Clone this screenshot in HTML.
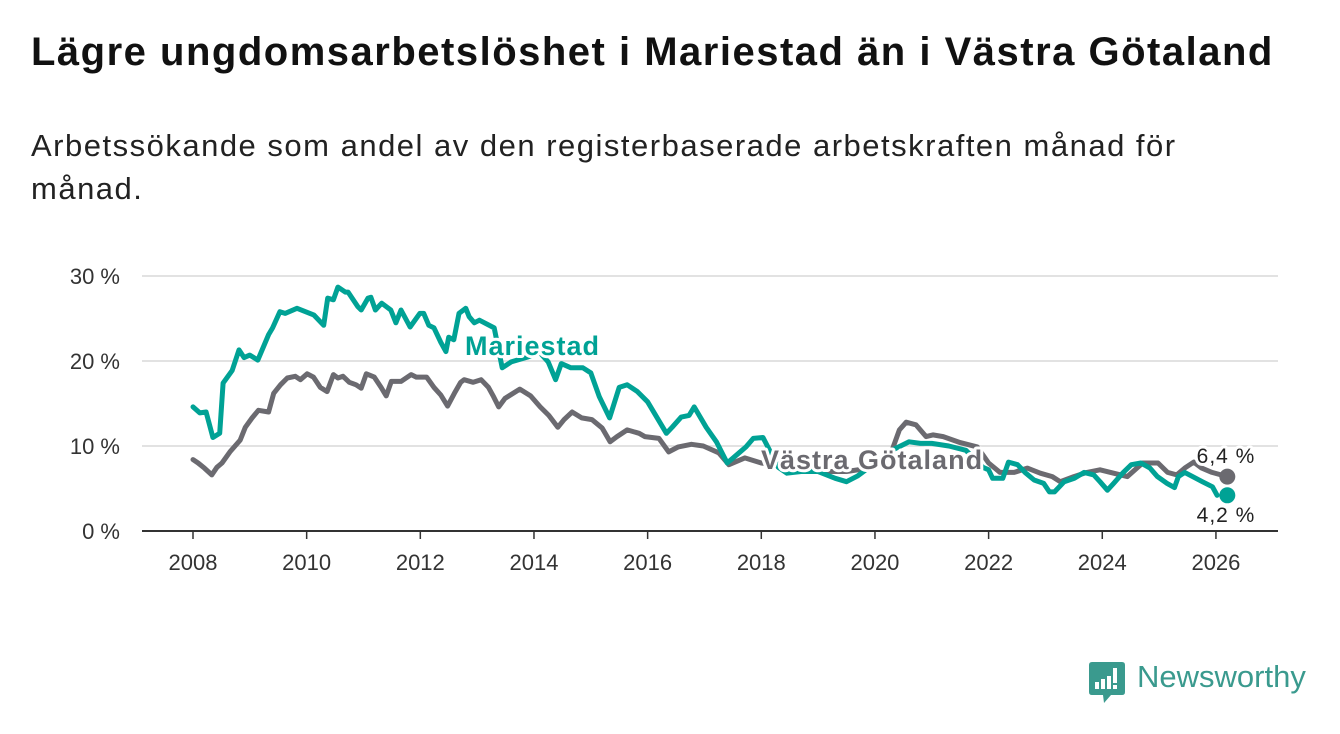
<!DOCTYPE html>
<html><head><meta charset="utf-8">
<style>
body{margin:0;background:#fff;width:1340px;height:734px;overflow:hidden;font-family:"Liberation Sans","DejaVu Sans",sans-serif;}
h1{position:absolute;left:31px;top:30px;margin:0;font-size:40px;letter-spacing:1.5px;font-weight:bold;color:#111;white-space:nowrap;}
.sub{position:absolute;left:31px;top:124px;width:1250px;font-size:31px;letter-spacing:1.5px;line-height:43px;color:#222;margin:0;}
svg{position:absolute;left:0;top:0;}
</style></head>
<body>
<h1>Lägre ungdomsarbetslöshet i Mariestad än i Västra Götaland</h1>
<p class="sub">Arbetssökande som andel av den registerbaserade arbetskraften månad för<br>månad.</p>
<svg id="chart" width="1340" height="734"></svg>
<div style="position:absolute;left:1089px;top:662px;">
  <svg width="36" height="42" viewBox="0 0 36 42" style="position:absolute;left:0;top:0;">
    <path d="M3 0H33Q36 0 36 3V30Q36 33 33 33H22L15 41L14 33H3Q0 33 0 30V3Q0 0 3 0Z" fill="#3a9a8e"/>
    <rect x="6" y="20" width="4" height="7" fill="#fff"/><rect x="12" y="17" width="4" height="10" fill="#fff"/>
    <rect x="18" y="14" width="4" height="13" fill="#fff"/><rect x="24" y="6" width="4" height="15" fill="#fff"/><rect x="24" y="23" width="4" height="4" fill="#fff"/>
  </svg>
  <span style="position:absolute;left:48px;top:-3px;font-size:31px;color:#3a9a8e;white-space:nowrap;">Newsworthy</span>
</div>
<script>
const yTicks=[0,10,20,30];
const xTicks=[2008,2010,2012,2014,2016,2018,2020,2022,2024,2026];
const marYears=[2008.0,2008.12,2008.23,2008.35,2008.47,2008.53,2008.69,2008.81,2008.9,2009.0,2009.14,2009.33,2009.4,2009.53,2009.62,2009.83,2010.13,2010.3,2010.37,2010.47,2010.55,2010.68,2010.73,2010.9,2010.96,2011.08,2011.13,2011.21,2011.32,2011.48,2011.57,2011.66,2011.82,2011.99,2012.06,2012.15,2012.24,2012.36,2012.45,2012.5,2012.59,2012.68,2012.8,2012.86,2012.95,2013.04,2013.3,2013.44,2013.6,2013.9,2014.1,2014.25,2014.38,2014.48,2014.65,2014.86,2015.0,2015.15,2015.33,2015.5,2015.64,2015.82,2016.0,2016.33,2016.43,2016.59,2016.73,2016.82,2017.03,2017.21,2017.4,2017.61,2017.73,2017.86,2018.03,2018.3,2018.45,2018.7,2019.0,2019.3,2019.5,2019.7,2020.0,2020.3,2020.6,2020.8,2021.0,2021.3,2021.6,2021.9,2022.0,2022.07,2022.25,2022.35,2022.51,2022.64,2022.8,2022.97,2023.07,2023.16,2023.33,2023.51,2023.68,2023.85,2023.96,2024.09,2024.2,2024.37,2024.51,2024.68,2024.84,2024.97,2025.14,2025.27,2025.34,2025.45,2025.59,2025.76,2025.94,2026.02,2026.07,2026.2];
const marValues=[14.6,13.9,14.0,11.0,11.5,17.4,18.9,21.3,20.4,20.7,20.1,23.1,23.9,25.8,25.6,26.2,25.4,24.2,27.4,27.2,28.7,28.1,28.1,26.4,26.0,27.4,27.5,26.0,26.8,26.0,24.5,26.0,24.0,25.6,25.6,24.2,23.9,22.2,21.1,22.8,22.5,25.6,26.2,25.2,24.5,24.8,23.9,19.2,19.9,20.5,21.0,19.9,17.8,19.7,19.2,19.2,18.6,15.8,13.3,16.9,17.2,16.4,15.2,11.5,12.2,13.4,13.6,14.6,12.2,10.5,8.0,9.2,9.9,10.9,11.0,7.5,6.8,7.0,7.0,6.2,5.8,6.5,8.0,9.5,10.5,10.3,10.3,10.0,9.5,7.5,7.2,6.2,6.2,8.1,7.8,6.9,6.0,5.6,4.6,4.6,5.8,6.2,6.9,6.6,5.8,4.8,5.6,6.9,7.8,8.0,7.4,6.4,5.6,5.1,6.4,6.9,6.4,5.8,5.2,4.2];
const vgYears=[2008.0,2008.09,2008.2,2008.33,2008.42,2008.51,2008.65,2008.83,2008.92,2009.04,2009.15,2009.33,2009.42,2009.54,2009.66,2009.8,2009.89,2010.01,2010.12,2010.24,2010.36,2010.47,2010.55,2010.64,2010.75,2010.87,2010.96,2011.05,2011.19,2011.31,2011.4,2011.49,2011.66,2011.84,2011.93,2012.11,2012.24,2012.36,2012.48,2012.6,2012.71,2012.77,2012.93,2013.07,2013.2,2013.29,2013.38,2013.49,2013.75,2013.94,2014.11,2014.26,2014.42,2014.53,2014.67,2014.84,2015.02,2015.2,2015.34,2015.46,2015.64,2015.85,2015.95,2016.2,2016.37,2016.54,2016.77,2016.98,2017.25,2017.43,2017.71,2018.0,2018.5,2019.0,2019.5,2020.0,2020.3,2020.43,2020.55,2020.72,2020.9,2021.02,2021.2,2021.5,2021.8,2022.0,2022.2,2022.45,2022.68,2022.91,2023.12,2023.26,2023.5,2023.73,2023.96,2024.2,2024.44,2024.71,2024.98,2025.15,2025.31,2025.45,2025.61,2025.75,2025.93,2026.2];
const vgValues=[8.4,8.0,7.4,6.6,7.5,8.0,9.3,10.7,12.2,13.3,14.2,14.0,16.2,17.2,18.0,18.2,17.8,18.5,18.1,16.9,16.4,18.4,18.0,18.2,17.5,17.2,16.8,18.5,18.1,16.9,15.9,17.6,17.6,18.4,18.1,18.1,16.9,16.0,14.7,16.2,17.5,17.8,17.5,17.8,16.9,15.8,14.6,15.6,16.7,15.9,14.6,13.6,12.2,13.1,14.0,13.3,13.1,12.1,10.5,11.1,11.9,11.5,11.1,10.9,9.3,9.9,10.2,10.0,9.2,7.8,8.6,8.0,7.5,7.0,7.0,7.5,9.5,11.9,12.8,12.5,11.1,11.3,11.1,10.4,9.9,8.0,6.9,6.9,7.4,6.8,6.4,5.8,6.4,6.9,7.2,6.8,6.4,8.0,8.0,6.9,6.6,7.4,8.1,7.4,6.9,6.4];
const NS="http://www.w3.org/2000/svg";
const svg=document.getElementById('chart');
const X=y=>193+(y-2008)*56.83;
const Y=v=>531-v*8.5;
function mk(t,a){const e=document.createElementNS(NS,t);for(const k in a)e.setAttribute(k,a[k]);svg.appendChild(e);return e;}
yTicks.forEach(v=>{
  const l=mk('line',{x1:142,x2:1278,y1:Y(v),y2:Y(v),stroke:v===0?'#333':'#d8d8d8','stroke-width':v===0?2:1.5});
  
  
  const t=mk('text',{x:120,y:Y(v)+8,'text-anchor':'end','font-size':22,fill:'#333'});
  t.textContent=v+' %';
  
  
});
xTicks.forEach(yr=>{
  const l=mk('line',{x1:X(yr),x2:X(yr),y1:531,y2:539,stroke:'#333','stroke-width':1.5});
  
  
  const t=mk('text',{x:X(yr),y:570,'text-anchor':'middle','font-size':22,fill:'#333'});
  t.textContent=yr;
  
  
});
function line(xs,vs,col,name){
  const d=xs.map((x,i)=>(i?'L':'M')+X(x).toFixed(1)+' '+Y(vs[i]).toFixed(1)).join('');
  const p=mk('path',{d:d,fill:'none',stroke:col,'stroke-width':5,'stroke-linejoin':'round','stroke-linecap':'round'});
  
  
  const c=mk('circle',{cx:X(xs[xs.length-1]),cy:Y(vs[vs.length-1]),r:8,fill:col});
  
  
}
line(vgYears,vgValues,'#6b6a70','vastra-gotaland-line');
line(marYears,marValues,'#00a295','mariestad-line');
function lbl(x,y,txt,col,size,w,name,anchor){
  const t=mk('text',{x:x,y:y,'font-size':size,'font-weight':w,fill:col,stroke:'#fff','stroke-width':6,'paint-order':'stroke','stroke-linejoin':'round','text-anchor':anchor||'start','letter-spacing':1});
  t.textContent=txt;
  
  
}
lbl(465,355,'Mariestad','#00a295',27,'bold','mariestad-label');
lbl(761,469,'Västra Götaland','#6b6a70',27,'bold','vastra-gotaland-label');
lbl(1226,463,'6,4 %','#222',21,'normal','vastra-gotaland-end-value','middle');
lbl(1226,522,'4,2 %','#222',21,'normal','mariestad-end-value','middle');
</script>
</body></html>
